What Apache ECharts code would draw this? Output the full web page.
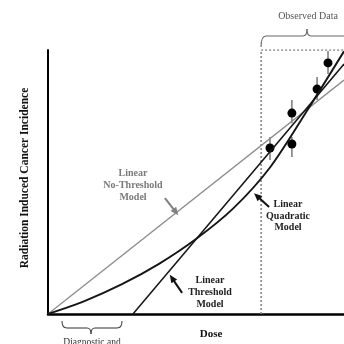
<!DOCTYPE html>
<html><head><meta charset="utf-8">
<script src="https://cdn.jsdelivr.net/npm/echarts@6/dist/echarts.min.js"></script>
<style>html,body{margin:0;padding:0;background:#fff}#c{width:344px;height:344px}</style>
</head><body><div id="c"></div>
<script>
// Dose (0-100 arbitrary units) vs incidence (0-100 arbitrary units)
var lntCurve = [[0, 0], [100, 88.6]];
var thresholdCurve = [[28.7, 0], [100, 94.7]];
var lqCurve = [[0, 0], [12.5, 5], [25, 11.3], [37.5, 19], [50, 28.4], [62.5, 39.9], [75, 55.5], [87.5, 77], [100, 99.5]];
// observed points: [dose, incidence, low, high]
var observed = [[75.0, 62.9, 58.3, 67.0], [82.4, 64.4, 59.5, 67.0], [82.4, 76.1, 72.3, 81.1], [90.9, 85.2, 81.1, 89.8], [94.6, 95.1, 90.9, 99.6]];
var observedBox = [[72.0, 0], [72.0, 100], [100, 100]];
// annotation arrows [from, to] in data units
var arrowLNT = [[39.5, 43.9], [43.2, 38.6]];
var arrowLQ = [[74.7, 40.5], [70.6, 44.7]];
var arrowThr = [[45.3, 8.0], [41.9, 13.6]];

var serif = '"Liberation Serif","DejaVu Serif",serif';
var chart = echarts.init(document.getElementById('c'));
function arrow(a, color) {
  return {
    type: 'line', data: [], silent: true,
    markLine: {
      silent: true, symbol: ['none', 'triangle'], symbolSize: [7, 8],
      label: {show: false},
      lineStyle: {color: color, width: 2, type: 'solid'},
      data: [[{coord: a[0]}, {coord: a[1]}]]
    }
  };
}
// brace: horizontal, from xa to xb at level y, ends at yEnd, tip at (xt, yTip)
function brace(xa, xb, y, yEnd, xt, yTip, color) {
  var st = {fill: 'none', stroke: color, lineWidth: 1.1};
  var r = 5;
  return [
    {type: 'bezierCurve', shape: {x1: xa, y1: yEnd, x2: xa + r, y2: y, cpx1: xa, cpy1: y}, style: st},
    {type: 'line', shape: {x1: xa + r, y1: y, x2: xt - 4, y2: y}, style: st},
    {type: 'bezierCurve', shape: {x1: xt - 4, y1: y, x2: xt, y2: yTip, cpx1: xt, cpy1: y}, style: st},
    {type: 'bezierCurve', shape: {x1: xt, y1: yTip, x2: xt + 4, y2: y, cpx1: xt, cpy1: y}, style: st},
    {type: 'line', shape: {x1: xt + 4, y1: y, x2: xb - r, y2: y}, style: st},
    {type: 'bezierCurve', shape: {x1: xb - r, y1: y, x2: xb, y2: yEnd, cpx1: xb, cpy1: y}, style: st}
  ];
}
var graphics = [
  {type: 'text', x: 25, y: 178, rotation: Math.PI / 2, style: {text: 'Radiation Induced Cancer Incidence', font: 'bold 11.5px ' + serif, fill: '#111', align: 'center', verticalAlign: 'middle'}},
  {type: 'text', x: 211, y: 334, style: {text: 'Dose', font: 'bold 11px ' + serif, fill: '#111', align: 'center', verticalAlign: 'middle'}},
  {type: 'text', x: 308, y: 16, style: {text: 'Observed Data', font: '10px ' + serif, fill: '#555', align: 'center', verticalAlign: 'middle'}},
  {type: 'text', x: 133, y: 185, style: {text: 'Linear\nNo-Threshold\nModel', font: 'bold 10px ' + serif, lineHeight: 12, fill: '#7a7a7a', align: 'center', verticalAlign: 'middle'}},
  {type: 'text', x: 288, y: 216, style: {text: 'Linear\nQuadratic\nModel', font: 'bold 10px ' + serif, lineHeight: 11.5, fill: '#222', align: 'center', verticalAlign: 'middle'}},
  {type: 'text', x: 210, y: 292, style: {text: 'Linear\nThreshold\nModel', font: 'bold 10px ' + serif, lineHeight: 12, fill: '#222', align: 'center', verticalAlign: 'middle'}},
  {type: 'text', x: 92, y: 337, style: {text: 'Diagnostic and', font: '9.5px ' + serif, fill: '#333', align: 'center', verticalAlign: 'top'}}
].concat(brace(261, 352, 36, 47, 307, 29, '#666'), brace(62, 122, 328, 321, 91, 334, '#444'));

chart.setOption({
  animation: false,
  grid: {left: 48, top: 50, width: 296, height: 264},
  xAxis: {type: 'value', min: 0, max: 100, axisLine: {lineStyle: {color: '#000', width: 2.5}}, axisTick: {show: false}, axisLabel: {show: false}, splitLine: {show: false}},
  yAxis: {type: 'value', min: 0, max: 100, axisLine: {show: true, lineStyle: {color: '#000', width: 2}}, axisTick: {show: false}, axisLabel: {show: false}, splitLine: {show: false}},
  series: [
    {type: 'line', data: observedBox, symbol: 'none', lineStyle: {color: '#888', width: 1.6, type: [2, 2]}},
    {type: 'line', data: lntCurve, symbol: 'none', lineStyle: {color: '#8c8c8c', width: 1.3}},
    {type: 'line', data: thresholdCurve, symbol: 'none', lineStyle: {color: '#151515', width: 1.5}},
    {type: 'line', data: lqCurve, symbol: 'none', smooth: 0.3, lineStyle: {color: '#151515', width: 1.9}},
    {type: 'custom', data: observed, renderItem: function (params, api) {
      var p = api.coord([api.value(0), api.value(1)]);
      var lo = api.coord([api.value(0), api.value(2)]);
      var hi = api.coord([api.value(0), api.value(3)]);
      return {type: 'group', children: [
        {type: 'line', shape: {x1: lo[0], y1: lo[1], x2: hi[0], y2: hi[1]}, style: {stroke: '#777', lineWidth: 1.5}},
        {type: 'circle', shape: {cx: p[0], cy: p[1], r: 4.5}, style: {fill: '#000'}}
      ]};
    }},
    arrow(arrowLNT, '#808080'),
    arrow(arrowLQ, '#111'),
    arrow(arrowThr, '#111')
  ],
  graphic: graphics
});
</script></body></html>
